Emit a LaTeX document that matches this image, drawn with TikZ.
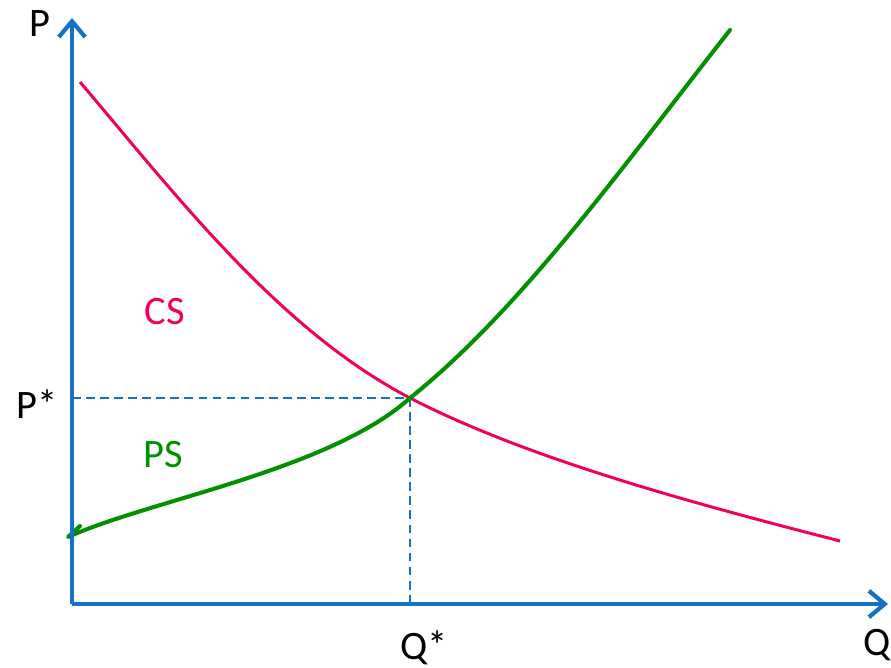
\documentclass[tikz,border=0pt]{standalone}
\usepackage{fontspec}
\setmainfont{Carlito}
\usepackage{xcolor}
\usetikzlibrary{arrows.meta,positioning,calc}
\definecolor{axiscol}{HTML}{1570C8}
\definecolor{demcol}{HTML}{F0005C}
\definecolor{supcol}{HTML}{009000}

\begin{document}
\begin{tikzpicture}[x=0.02cm,y=-0.02cm,font=\fontsize{23}{26}\selectfont,
  axis/.style={draw=axiscol,line width=2.7pt,-{Straight Barb[length=9pt,width=15pt,line width=2.4pt]}},
  guide/.style={draw=axiscol,line width=1pt,dashed,dash pattern=on 5pt off 3pt},
  dem/.style={draw=demcol,line width=1.7pt},
  sup/.style={draw=supcol,line width=2.3pt,line cap=round,line join=round},
  lbl/.style={inner sep=0pt},
]
\useasboundingbox (0,0) rectangle (891,668);

\coordinate (O) at (72,604);
\coordinate (ytop) at (72,18);
\coordinate (xend) at (888,604);
\coordinate (eq) at (410,398);
\coordinate (peq) at (72,398);
\coordinate (qeq) at (410,604);
\coordinate (dtop) at (80,82);
\coordinate (dend) at (840,541);
\coordinate (sbot) at (68,537);
\coordinate (stop) at (730,30);

% guides to the equilibrium
\draw[guide] (peq) -- (eq);
\draw[guide] (eq) -- (qeq);

% demand and supply
\draw[dem] (dtop) .. controls (180,200) and (280,330) .. (eq)
                  .. controls (530,460) and (700,505) .. (dend);
\draw[sup] (80,526) -- (sbot) .. controls (150,500) and (330,470) .. (eq)
                  .. controls (520,310) and (620,170) .. (stop);

% axes
\draw[axis] (O) -- (ytop);
\draw[axis] (O) -- (xend);

\node[lbl] (plab) at (40,24) {P};
\node[lbl] (qlab) at (877,645) {Q};
\node[lbl] (pstar) at (37,404) {P*};
\node[lbl] (qstar) at (424,648) {Q*};
\node[lbl,text=demcol] (cs) at (165,312) {CS};
\node[lbl,text=supcol] (ps) at (163,455) {PS};
\end{tikzpicture}
\end{document}
